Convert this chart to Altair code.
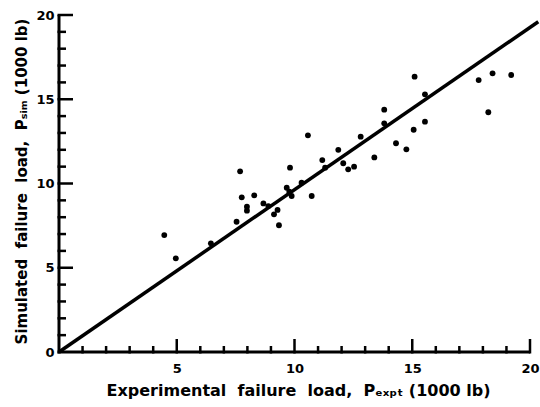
import altair as alt
import pandas as pd

# Experimental vs simulated failure loads (1000 lb)
x_expt = [4.47, 4.96, 6.45, 7.54, 7.69, 7.76, 7.98, 7.98, 8.29, 8.68,
          8.89, 9.13, 9.28, 9.34, 9.67, 9.78, 9.88, 9.81, 10.3, 10.57,
          10.73, 11.18, 11.3, 11.86, 12.07, 12.28, 12.53, 12.81, 13.39, 13.81,
          13.81, 14.31, 14.75, 15.06, 15.1, 15.54, 15.54, 17.82, 18.23, 18.41,
          19.2]
y_sim = [6.94, 5.56, 6.45, 7.73, 10.72, 9.18, 8.62, 8.39, 9.30, 8.82,
         8.66, 8.17, 8.43, 7.52, 9.75, 9.51, 9.26, 10.94, 10.05, 12.86,
         9.26, 11.39, 10.94, 12.0, 11.2, 10.84, 11.0, 12.78, 11.55, 14.38,
         13.57, 12.39, 12.03, 13.19, 16.34, 13.67, 15.29, 16.14, 14.23, 16.54,
         16.44]

# Agreement line end points
line_x = [0.0, 20.35]
line_y = [0.0, 19.6]

major_ticks = [5, 10, 15, 20]
minor_ticks = [v for v in range(1, 20) if v % 5 != 0]

DMAX = 20.0
PAD = 5                      # continuous padding that bar marks give each scale
W, H = 471 + 2 * PAD, 337 + 2 * PAD
PX_X = (W - 2 * PAD) / DMAX  # pixels per unit along x
PX_Y = (H - 2 * PAD) / DMAX  # pixels per unit along y
FONT = "DejaVu Sans"
SP = "\u00a0\u00a0"

xscale = alt.Scale(domain=[0, DMAX], nice=False, zero=False)
yscale = alt.Scale(domain=[0, DMAX], nice=False, zero=False)

pts = pd.DataFrame({"x": x_expt, "y": y_sim})
line_df = pd.DataFrame({"x": line_x, "y": line_y})
xmaj_df = pd.DataFrame({"x": major_ticks})
xmin_df = pd.DataFrame({"x": minor_ticks})
ymaj_df = pd.DataFrame({"y": major_ticks})
ymin_df = pd.DataFrame({"y": minor_ticks})
xline_df = pd.DataFrame({"y": [0.0]})
yline_df = pd.DataFrame({"x": [0.0]})

x_axis = alt.Axis(
    values=major_ticks, ticks=False, grid=False, domain=False,
    labelFont=FONT, labelFontWeight="bold", labelFontSize=13, labelColor="black",
    labelPadding=5, labelBound=False, labelFlush=False, labelOverlap=False,
    title=f"Experimental{SP}failure{SP}load,{SP}Pₑₓₚₜ (1000 lb)",
    titleFont=FONT, titleFontWeight="bold", titleFontSize=16, titleColor="black",
    titleX=244, titleY=33, titleAlign="center", titleBaseline="middle",
)
y_axis = alt.Axis(
    values=[0] + major_ticks, ticks=False, grid=False, domain=False,
    labelFont=FONT, labelFontWeight="bold", labelFontSize=13, labelColor="black",
    labelPadding=0,
    title=f"Simulated{SP}failure{SP}load,{SP}Pₛᵢₘ (1000 lb)",
    titleFont=FONT, titleFontWeight="bold", titleFontSize=15, titleColor="black",
    titleX=-33, titleY=171, titleAngle=-90, titleAlign="center", titleBaseline="middle",
)

points = alt.Chart(pts).mark_circle(size=34, color="black", opacity=1).encode(
    x=alt.X("x:Q", scale=xscale, axis=x_axis),
    y=alt.Y("y:Q", scale=yscale, axis=y_axis),
)

diag = alt.Chart(line_df).mark_line(color="black", strokeWidth=3.5, clip=False).encode(
    x=alt.X("x:Q", scale=xscale),
    y=alt.Y("y:Q", scale=yscale),
)


# Inward tick marks drawn as thin bars standing on each axis line
def x_ticks(df, length_px, width=2.5):
    return alt.Chart(df).mark_bar(color="black", size=width, orient="vertical").encode(
        x=alt.X("x:Q", scale=xscale),
        y=alt.datum(-1.5 / PX_Y, scale=yscale),
        y2=alt.datum(length_px / PX_Y),
    )


def y_ticks(df, length_px, width=2.5):
    return alt.Chart(df).mark_bar(color="black", size=width, orient="horizontal").encode(
        y=alt.Y("y:Q", scale=yscale),
        x=alt.datum(-1.5 / PX_X, scale=xscale),
        x2=alt.datum(length_px / PX_X),
    )


# Axis lines meeting at the origin
x_line = alt.Chart(xline_df).mark_bar(color="black", size=3, orient="horizontal").encode(
    y=alt.Y("y:Q", scale=yscale),
    x=alt.datum(-1.5 / PX_X, scale=xscale),
    x2=alt.datum(DMAX),
)
y_line = alt.Chart(yline_df).mark_bar(color="black", size=3, orient="vertical").encode(
    x=alt.X("x:Q", scale=xscale),
    y=alt.datum(-1.5 / PX_Y, scale=yscale),
    y2=alt.datum(DMAX),
)

chart = alt.layer(
    points,
    x_ticks(xmaj_df, 13), x_ticks(xmin_df, 6),
    y_ticks(ymaj_df, 14), y_ticks(ymin_df, 7),
    x_line, y_line,
    diag,
).properties(
    width=W, height=H,
    autosize=alt.AutoSizeParams(type="none"),
    padding={"left": 59 - PAD, "top": 15 - PAD,
             "right": 540 - (59 - PAD) - W, "bottom": 407 - (15 - PAD) - H},
).configure(background="white").configure_view(stroke=None)

chart.save("out.html", embed_options={"renderer": "svg", "actions": False})
